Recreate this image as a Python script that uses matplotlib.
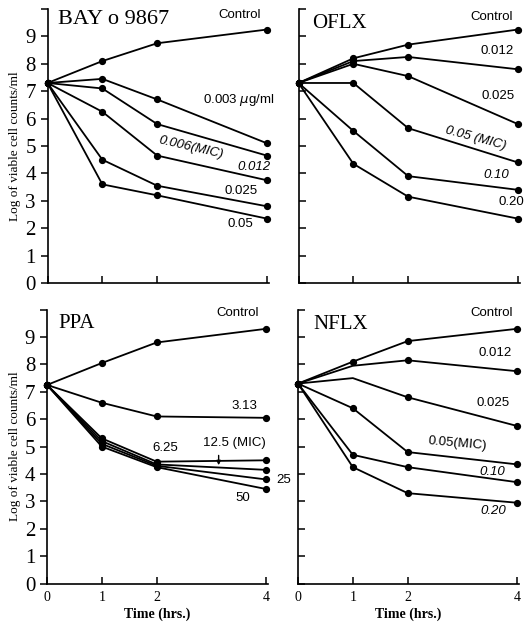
import matplotlib
matplotlib.use("Agg")
from matplotlib import pyplot as plt

# data
time = [0, 1, 2, 4]

# BAY o 9867
bay_control = [7.3, 8.1, 8.75, 9.25]
bay_0003 = [7.3, 7.45, 6.7, 5.1]
bay_0006 = [7.3, 7.1, 5.8, 4.65]
bay_0012 = [7.3, 6.25, 4.65, 3.75]
bay_0025 = [7.3, 4.5, 3.55, 2.8]
bay_005 = [7.3, 3.6, 3.2, 2.35]

# OFLX
oflx_control = [7.3, 8.2, 8.7, 9.25]
oflx_0012 = [7.3, 8.1, 8.25, 7.8]
oflx_0025 = [7.3, 8.0, 7.55, 5.8]
oflx_005 = [7.3, 7.3, 5.65, 4.4]
oflx_010 = [7.3, 5.55, 3.9, 3.4]
oflx_020 = [7.3, 4.35, 3.15, 2.35]

# PPA
ppa_control = [7.25, 8.05, 8.8, 9.3]
ppa_313 = [7.25, 6.6, 6.1, 6.05]
ppa_625 = [7.25, 5.3, 4.45, 4.5]
ppa_125 = [7.25, 5.2, 4.35, 4.15]
ppa_25 = [7.25, 5.1, 4.3, 3.8]
ppa_50 = [7.25, 5.0, 4.25, 3.45]

# NFLX
nflx_control = [7.3, 8.1, 8.85, 9.3]
nflx_0012 = [7.3, 7.95, 8.15, 7.75]
nflx_0025 = [7.3, 7.5, 6.8, 5.75]
nflx_005 = [7.3, 6.4, 4.8, 4.35]
nflx_010 = [7.3, 4.7, 4.25, 3.7]
nflx_020 = [7.3, 4.25, 3.3, 2.95]

serif = ["Liberation Serif", "DejaVu Serif"]
sans = ["Liberation Sans", "DejaVu Sans"]

fig = plt.figure(figsize=(5.27, 6.26), dpi=100)

W = 221 / 527
H = 274 / 626
ax_bay = fig.add_axes([47.5 / 527, 1 - 283 / 626, W, H])
ax_oflx = fig.add_axes([298.5 / 527, 1 - 283 / 626, W, H])
ax_ppa = fig.add_axes([47.0 / 527, 1 - 583.6 / 626, W, H])
ax_nflx = fig.add_axes([298.0 / 527, 1 - 583.6 / 626, W, H])


def style(ax, left, bottom):
    ax.set_xlim(0, 4.03)
    ax.set_ylim(0, 10)
    for s in ["top", "right"]:
        ax.spines[s].set_visible(False)
    ax.spines["left"].set_linewidth(1.2)
    ax.spines["bottom"].set_linewidth(1.2)
    ax.set_xticks(time)
    ax.set_yticks(range(11))
    ax.tick_params(axis="x", direction="in", length=5, width=1.1)
    ax.tick_params(axis="y", direction="out" if left else "in", length=5, width=1.1)
    if left:
        ax.set_yticklabels([str(i) for i in range(10)] + [""], fontfamily=serif, fontsize=15)
        ax.set_ylabel("Log of viable cell counts/ml", fontfamily=serif, fontsize=9.5, labelpad=3)
    else:
        ax.set_yticklabels([])
    if bottom:
        ax.set_xticklabels([str(t) for t in time], fontfamily=serif, fontsize=10)
        ax.tick_params(axis="x", pad=5)
        ax.set_xlabel("Time (hrs.)", fontfamily=serif, fontsize=10, fontweight="bold", labelpad=3)
    else:
        ax.set_xticklabels([])


def series(ax, y, markevery=None):
    ax.plot(time, y, color="black", lw=1.3, marker="o", ms=4.2, markevery=markevery,
            clip_on=False, zorder=3)


def label(ax, x, y, s, rot=0, italic=False, ha="center"):
    ax.text(x, y, s, ha=ha, va="center", rotation=rot, fontsize=9.5,
            fontfamily=sans, style="italic" if italic else "normal", clip_on=False)


# BAY o 9867
for y in [bay_control, bay_0003, bay_0006, bay_0012, bay_0025, bay_005]:
    series(ax_bay, y)
style(ax_bay, True, False)
ax_bay.text(0.2, 9.6, "BAY o 9867", fontfamily=serif, fontsize=16, ha="left", va="center")
label(ax_bay, 3.51, 9.78, "Control")
label(ax_bay, 3.48, 6.68, "0.003 $\\mu$g/ml")
label(ax_bay, 2.61, 4.93, "0.006(MIC)", rot=-13, italic=True)
label(ax_bay, 3.76, 4.25, "0.012", italic=True)
label(ax_bay, 3.53, 3.35, "0.025")
label(ax_bay, 3.52, 2.15, "0.05")

# OFLX
for y in [oflx_control, oflx_0012, oflx_0025, oflx_005, oflx_010, oflx_020]:
    series(ax_oflx, y)
style(ax_oflx, False, False)
ax_oflx.text(0.25, 9.47, "OFLX", fontfamily=serif, fontsize=15, ha="left", va="center")
label(ax_oflx, 3.53, 9.7, "Control")
label(ax_oflx, 3.63, 8.45, "0.012")
label(ax_oflx, 3.63, 6.83, "0.025")
label(ax_oflx, 3.24, 5.28, "0.05 (MIC)", rot=-15, italic=True)
label(ax_oflx, 3.61, 3.94, "0.10", italic=True)
label(ax_oflx, 3.88, 2.96, "0.20")

# PPA
for y in [ppa_control, ppa_313, ppa_625, ppa_125, ppa_25, ppa_50]:
    series(ax_ppa, y)
style(ax_ppa, True, True)
ax_ppa.text(0.2, 9.5, "PPA", fontfamily=serif, fontsize=15, ha="left", va="center")
label(ax_ppa, 3.48, 9.88, "Control")
label(ax_ppa, 3.6, 6.48, "3.13")
label(ax_ppa, 2.16, 4.95, "6.25")
label(ax_ppa, 3.42, 5.13, "12.5 (MIC)")
ax_ppa.annotate("", xy=(3.13, 4.22), xytext=(3.13, 4.78),
                arrowprops=dict(arrowstyle="-|>", color="black", lw=1.0,
                                mutation_scale=6))
label(ax_ppa, 4.32, 3.78, "25")
label(ax_ppa, 3.57, 3.12, "50")

# NFLX
series(ax_nflx, nflx_control)
series(ax_nflx, nflx_0012, markevery=[0, 2, 3])
series(ax_nflx, nflx_0025, markevery=[0, 2, 3])
for y in [nflx_005, nflx_010, nflx_020]:
    series(ax_nflx, y)
style(ax_nflx, False, True)
ax_nflx.text(0.28, 9.44, "NFLX", fontfamily=serif, fontsize=15, ha="left", va="center")
label(ax_nflx, 3.53, 9.86, "Control")
label(ax_nflx, 3.59, 8.4, "0.012")
label(ax_nflx, 3.56, 6.58, "0.025")
label(ax_nflx, 2.9, 5.12, "0.05(MIC)", rot=-5)
label(ax_nflx, 3.55, 4.08, "0.10", italic=True)
label(ax_nflx, 3.56, 2.65, "0.20", italic=True)

plt.savefig("out.png", dpi=100)
